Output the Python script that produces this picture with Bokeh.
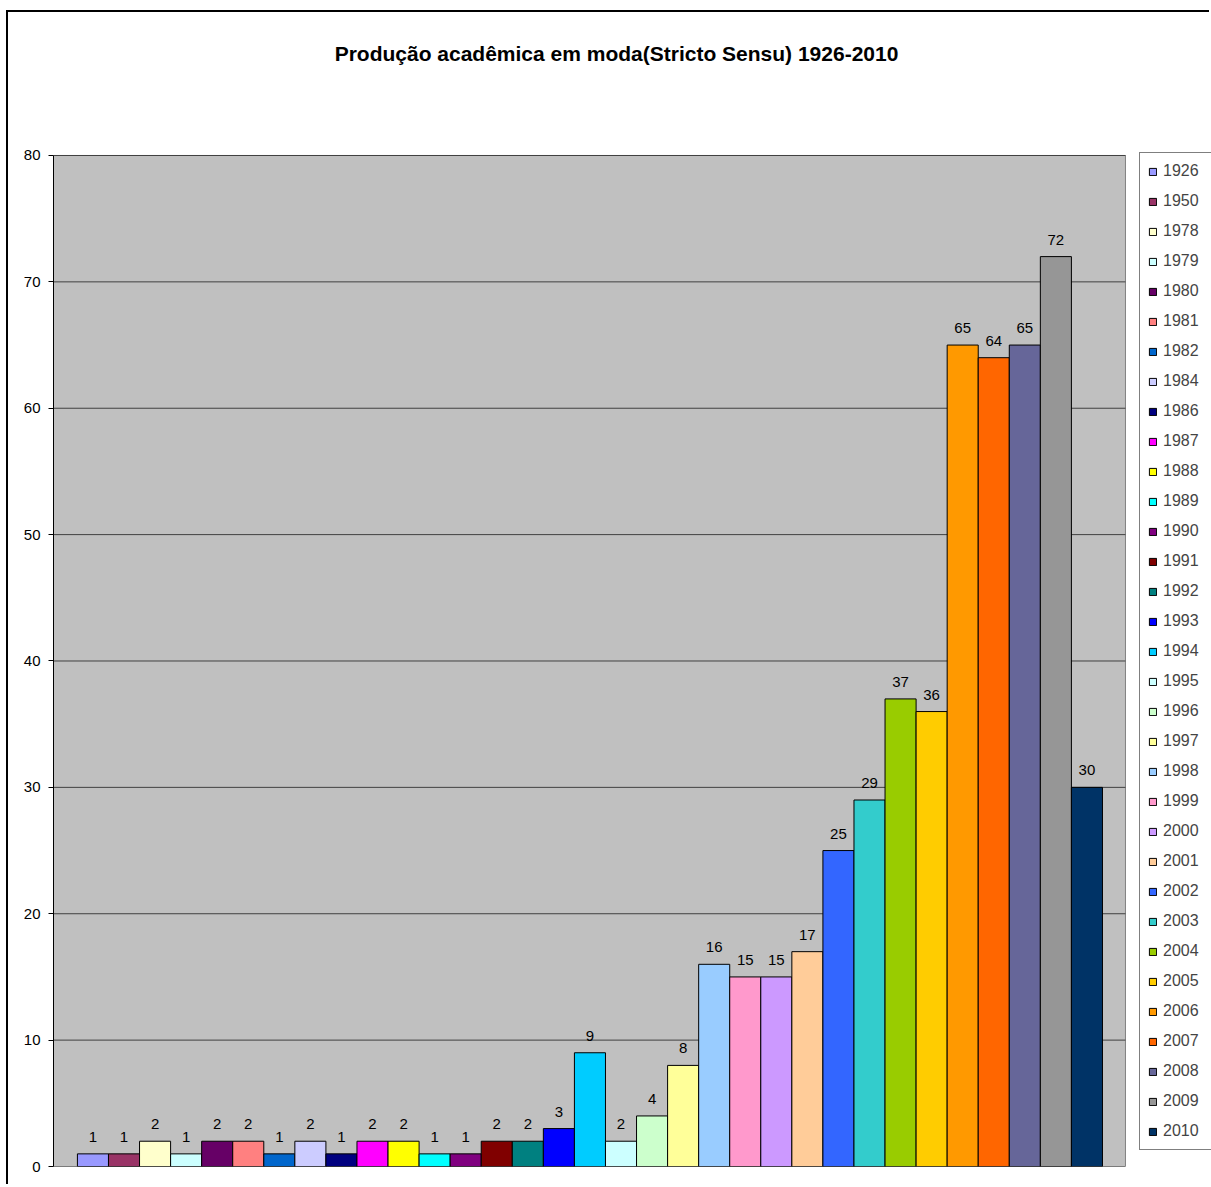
from bokeh.plotting import figure
from bokeh.models import (ColumnDataSource, Legend, LegendItem, LabelSet, Label,
                          Range1d, FixedTicker)
from bokeh.core.properties import value
from bokeh.embed import file_html
from bokeh.resources import INLINE

years = ["1926", "1950", "1978", "1979", "1980", "1981", "1982", "1984", "1986",
         "1987", "1988", "1989", "1990", "1991", "1992", "1993", "1994", "1995",
         "1996", "1997", "1998", "1999", "2000", "2001", "2002", "2003", "2004",
         "2005", "2006", "2007", "2008", "2009", "2010"]
values = [1, 1, 2, 1, 2, 2, 1, 2, 1, 2, 2, 1, 1, 2, 2, 3, 9, 2, 4, 8, 16, 15, 15,
          17, 25, 29, 37, 36, 65, 64, 65, 72, 30]
colors = ["#9999FF", "#993366", "#FFFFCC", "#CCFFFF", "#660066", "#FF8080",
          "#0066CC", "#CCCCFF", "#000080", "#FF00FF", "#FFFF00", "#00FFFF",
          "#800080", "#800000", "#008080", "#0000FF", "#00CCFF", "#CCFFFF",
          "#CCFFCC", "#FFFF99", "#99CCFF", "#FF99CC", "#CC99FF", "#FFCC99",
          "#3366FF", "#33CCCC", "#99CC00", "#FFCC00", "#FF9900", "#FF6600",
          "#666699", "#969696", "#003366"]
yticks = [0, 10, 20, 30, 40, 50, 60, 70, 80]
title_text = "Produção acadêmica em moda(Stricto Sensu) 1926-2010"

FONT = "Liberation Sans"

# plot-area extents (data units): bars 0..n-1 with padding either side
n = len(years)
X0, X1 = -1.27, n - 0.5 + 0.74
Y0, Y1 = 0, 80

src = ColumnDataSource(dict(
    x=list(range(n)),
    year=years,
    value=values,
    color=colors,
    label=[str(v) for v in values],
))

p = figure(width=1203, height=1174,
           x_range=Range1d(X0, 36.01),
           y_range=Range1d(Y0, 91.315),
           output_backend="svg", toolbar_location=None,
           min_border_left=45, min_border_top=0,
           min_border_right=0, min_border_bottom=20)
p.styles = {"border-left": "2px solid black", "border-top": "2px solid black",
            "margin-top": "10px", "margin-left": "6px"}

p.background_fill_color = "white"
p.border_fill_color = "white"
p.outline_line_color = None

p.xaxis.visible = False
p.xgrid.visible = False
p.ygrid.visible = False

# gray plot area
p.quad(left=[X0], right=[X1], bottom=[Y0], top=[Y1],
       fill_color="#C0C0C0", line_color="#808080", line_width=1)
# horizontal gridlines at the tick values
p.segment(x0=[X0] * len(yticks), x1=[X1] * len(yticks), y0=yticks, y1=yticks,
          line_color="#404040", line_width=1)

ax = p.yaxis[0]
ax.ticker = FixedTicker(ticks=yticks)
ax.bounds = (Y0, Y1)
ax.axis_line_color = "black"
ax.major_tick_in = 0
ax.major_tick_out = 5
ax.major_tick_line_color = "black"
ax.minor_tick_line_color = None
ax.major_label_text_font = FONT
ax.major_label_text_font_size = "15px"
ax.major_label_text_color = "black"
ax.major_label_standoff = 8

bars = p.vbar(x="x", top="value", width=1.0, bottom=0, source=src,
              fill_color="color", line_color="black", line_width=1)

labels = LabelSet(x="x", y="value", text="label", source=src,
                  text_align="center", text_baseline="bottom", y_offset=12,
                  text_font=value(FONT), text_font_size=value("15px"),
                  text_color=value("black"))
p.add_layout(labels)

items = [LegendItem(label=years[i], renderers=[bars], index=i)
         for i in range(n)]
legend = Legend(items=items, location=(1139 - 53, 1166 - 1150),
                glyph_width=9, glyph_height=9, label_height=20, spacing=10,
                padding=8, margin=0, label_standoff=6, label_width=40,
                label_text_font=FONT, label_text_font_size="16px",
                border_line_color="black", border_line_width=1,
                background_fill_color="white", background_fill_alpha=1.0)
p.add_layout(legend, "center")

title = Label(x=616 - 53, y=1166 - 53, x_units="screen", y_units="screen",
              text=title_text, text_align="center", text_baseline="middle",
              text_font=FONT, text_font_size="21px", text_font_style="bold",
              text_color="black")
p.add_layout(title)

open("out.html", "w").write(file_html(p, INLINE))
